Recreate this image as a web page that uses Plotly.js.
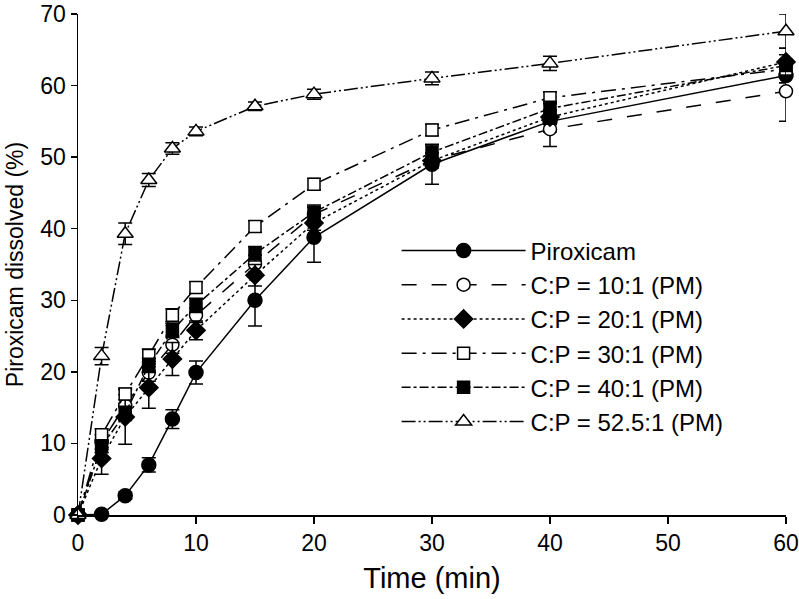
<!DOCTYPE html>
<html>
<head>
<meta charset="utf-8">
<script src="https://cdn.plot.ly/plotly-3.0.1.min.js"></script>
<style>
  html, body { margin: 0; padding: 0; background: #fff; }
  #chart { width: 799px; height: 599px; }
</style>
</head>
<body>
<div id="chart"></div>
<script>
// sampling times (min)
const time = [0, 2, 4, 6, 8, 10, 15, 20, 30, 40, 60];

// % dissolved
const piroxicam = [0, 0.1, 2.7, 7.0, 13.4, 19.9, 30.0, 38.8, 49.0, 55.0, 61.4];
const cp10 = [0, 10.2, 15.3, 19.9, 23.8, 27.9, 35.1, 42.0, 49.6, 53.9, 59.2];
const cp20 = [0, 7.9, 13.7, 17.8, 21.8, 25.8, 33.5, 40.8, 49.5, 55.6, 63.3];
const cp30 = [0, 11.2, 16.9, 22.3, 27.9, 31.8, 40.3, 46.2, 53.8, 58.3, 62.3];
const cp40 = [0, 9.6, 14.2, 20.9, 25.8, 29.3, 36.5, 42.3, 50.7, 56.8, 62.8];
const cp525 = [0, 22.2, 39.3, 46.8, 51.2, 53.6, 57.1, 58.8, 61.0, 63.1, 67.6];

// error bars (+/-)
const errPiroxicam = [0, 0.3, 0.5, 1.0, 1.3, 1.6, 3.6, 3.5, 2.8, 1.5, 1.0];
const err10 = [0, 1.0, 1.5, 1.2, 1.2, 1.0, 1.2, 1.0, 1.0, 2.4, 4.2];
const err20 = [0, 2.2, 3.8, 2.9, 2.3, 1.3, 1.5, 1.0, 1.0, 1.0, 1.0];
const err30 = [0, 0.8, 0.8, 0.9, 0.9, 0.8, 0.8, 0.8, 0.8, 0.8, 1.0];
const err40 = [0, 0.9, 1.0, 1.0, 1.0, 1.0, 1.0, 1.0, 1.0, 1.0, 2.4];
const err525 = [0, 1.2, 1.5, 0.9, 0.8, 0.6, 0.6, 0.7, 0.9, 1.0, 2.4];

const names = ["Piroxicam", "C:P = 10:1 (PM)", "C:P = 20:1 (PM)",
               "C:P = 30:1 (PM)", "C:P = 40:1 (PM)", "C:P = 52.5:1 (PM)"];

// open markers are drawn as white-filled so the lines do not show through
function series(name, y, err, symbol, filled, dash, size) {
    return {
        x: time,
        y: y,
        name: name,
        type: 'scatter',
        mode: 'lines+markers',
        cliponaxis: false,
        line: { color: 'black', width: 1.5, dash: dash },
        marker: {
            symbol: symbol,
            size: size,
            color: filled ? 'black' : 'white',
            line: { color: 'black', width: 1.5 }
        },
        error_y: { type: 'data', array: err, visible: true, color: 'black', thickness: 1.5, width: 7 }
    };
}

const traces = [
    series(names[0], piroxicam, errPiroxicam, 'circle', true, 'solid', 14),
    series(names[1], cp10, err10, 'circle', false, 'longdash', 13),
    series(names[2], cp20, err20, 'diamond', true, 'dot', 14),
    series(names[3], cp30, err30, 'square', false, 'longdashdot', 12),
    series(names[4], cp40, err40, 'square', true, 'dashdot', 12),
    series(names[5], cp525, err525, 'triangle-up', false, '14px,3px,2px,3px,2px,3px', 14)
];

const font = "'Liberation Sans', Arial, sans-serif";

const layout = {
    width: 799,
    height: 599,
    margin: { l: 78, r: 13, t: 14, b: 84 },
    paper_bgcolor: 'white',
    plot_bgcolor: 'white',
    showlegend: true,
    legend: {
        x: 0.45, y: 0.572, xanchor: 'left', yanchor: 'top',
        font: { family: font, size: 24, color: 'black' },
        bgcolor: 'rgba(0,0,0,0)',
        itemwidth: 124,
        tracegroupgap: 0
    },
    xaxis: {
        range: [0, 60],
        tickvals: [0, 10, 20, 30, 40, 50, 60],
        showgrid: false, zeroline: false,
        showline: true, linecolor: 'black', linewidth: 1.5,
        ticks: 'outside', ticklen: 7, tickwidth: 1.5, tickcolor: 'black',
        ticklabeloverflow: 'allow',
        tickfont: { family: font, size: 23, color: 'black' },
        title: { text: 'Time (min)', font: { family: font, size: 29, color: 'black' }, standoff: 12 }
    },
    yaxis: {
        range: [0, 70],
        tickvals: [0, 10, 20, 30, 40, 50, 60, 70],
        showgrid: false, zeroline: false,
        showline: true, linecolor: 'black', linewidth: 1.5,
        ticks: 'outside', ticklen: 6, tickwidth: 1.5, tickcolor: 'black',
        ticklabeloverflow: 'allow',
        tickfont: { family: font, size: 23, color: 'black' },
        title: { text: 'Piroxicam dissolved (%)', font: { family: font, size: 23, color: 'black' }, standoff: 10 }
    }
};

Plotly.newPlot('chart', traces, layout, { displayModeBar: false, staticPlot: true });
</script>
</body>
</html>
